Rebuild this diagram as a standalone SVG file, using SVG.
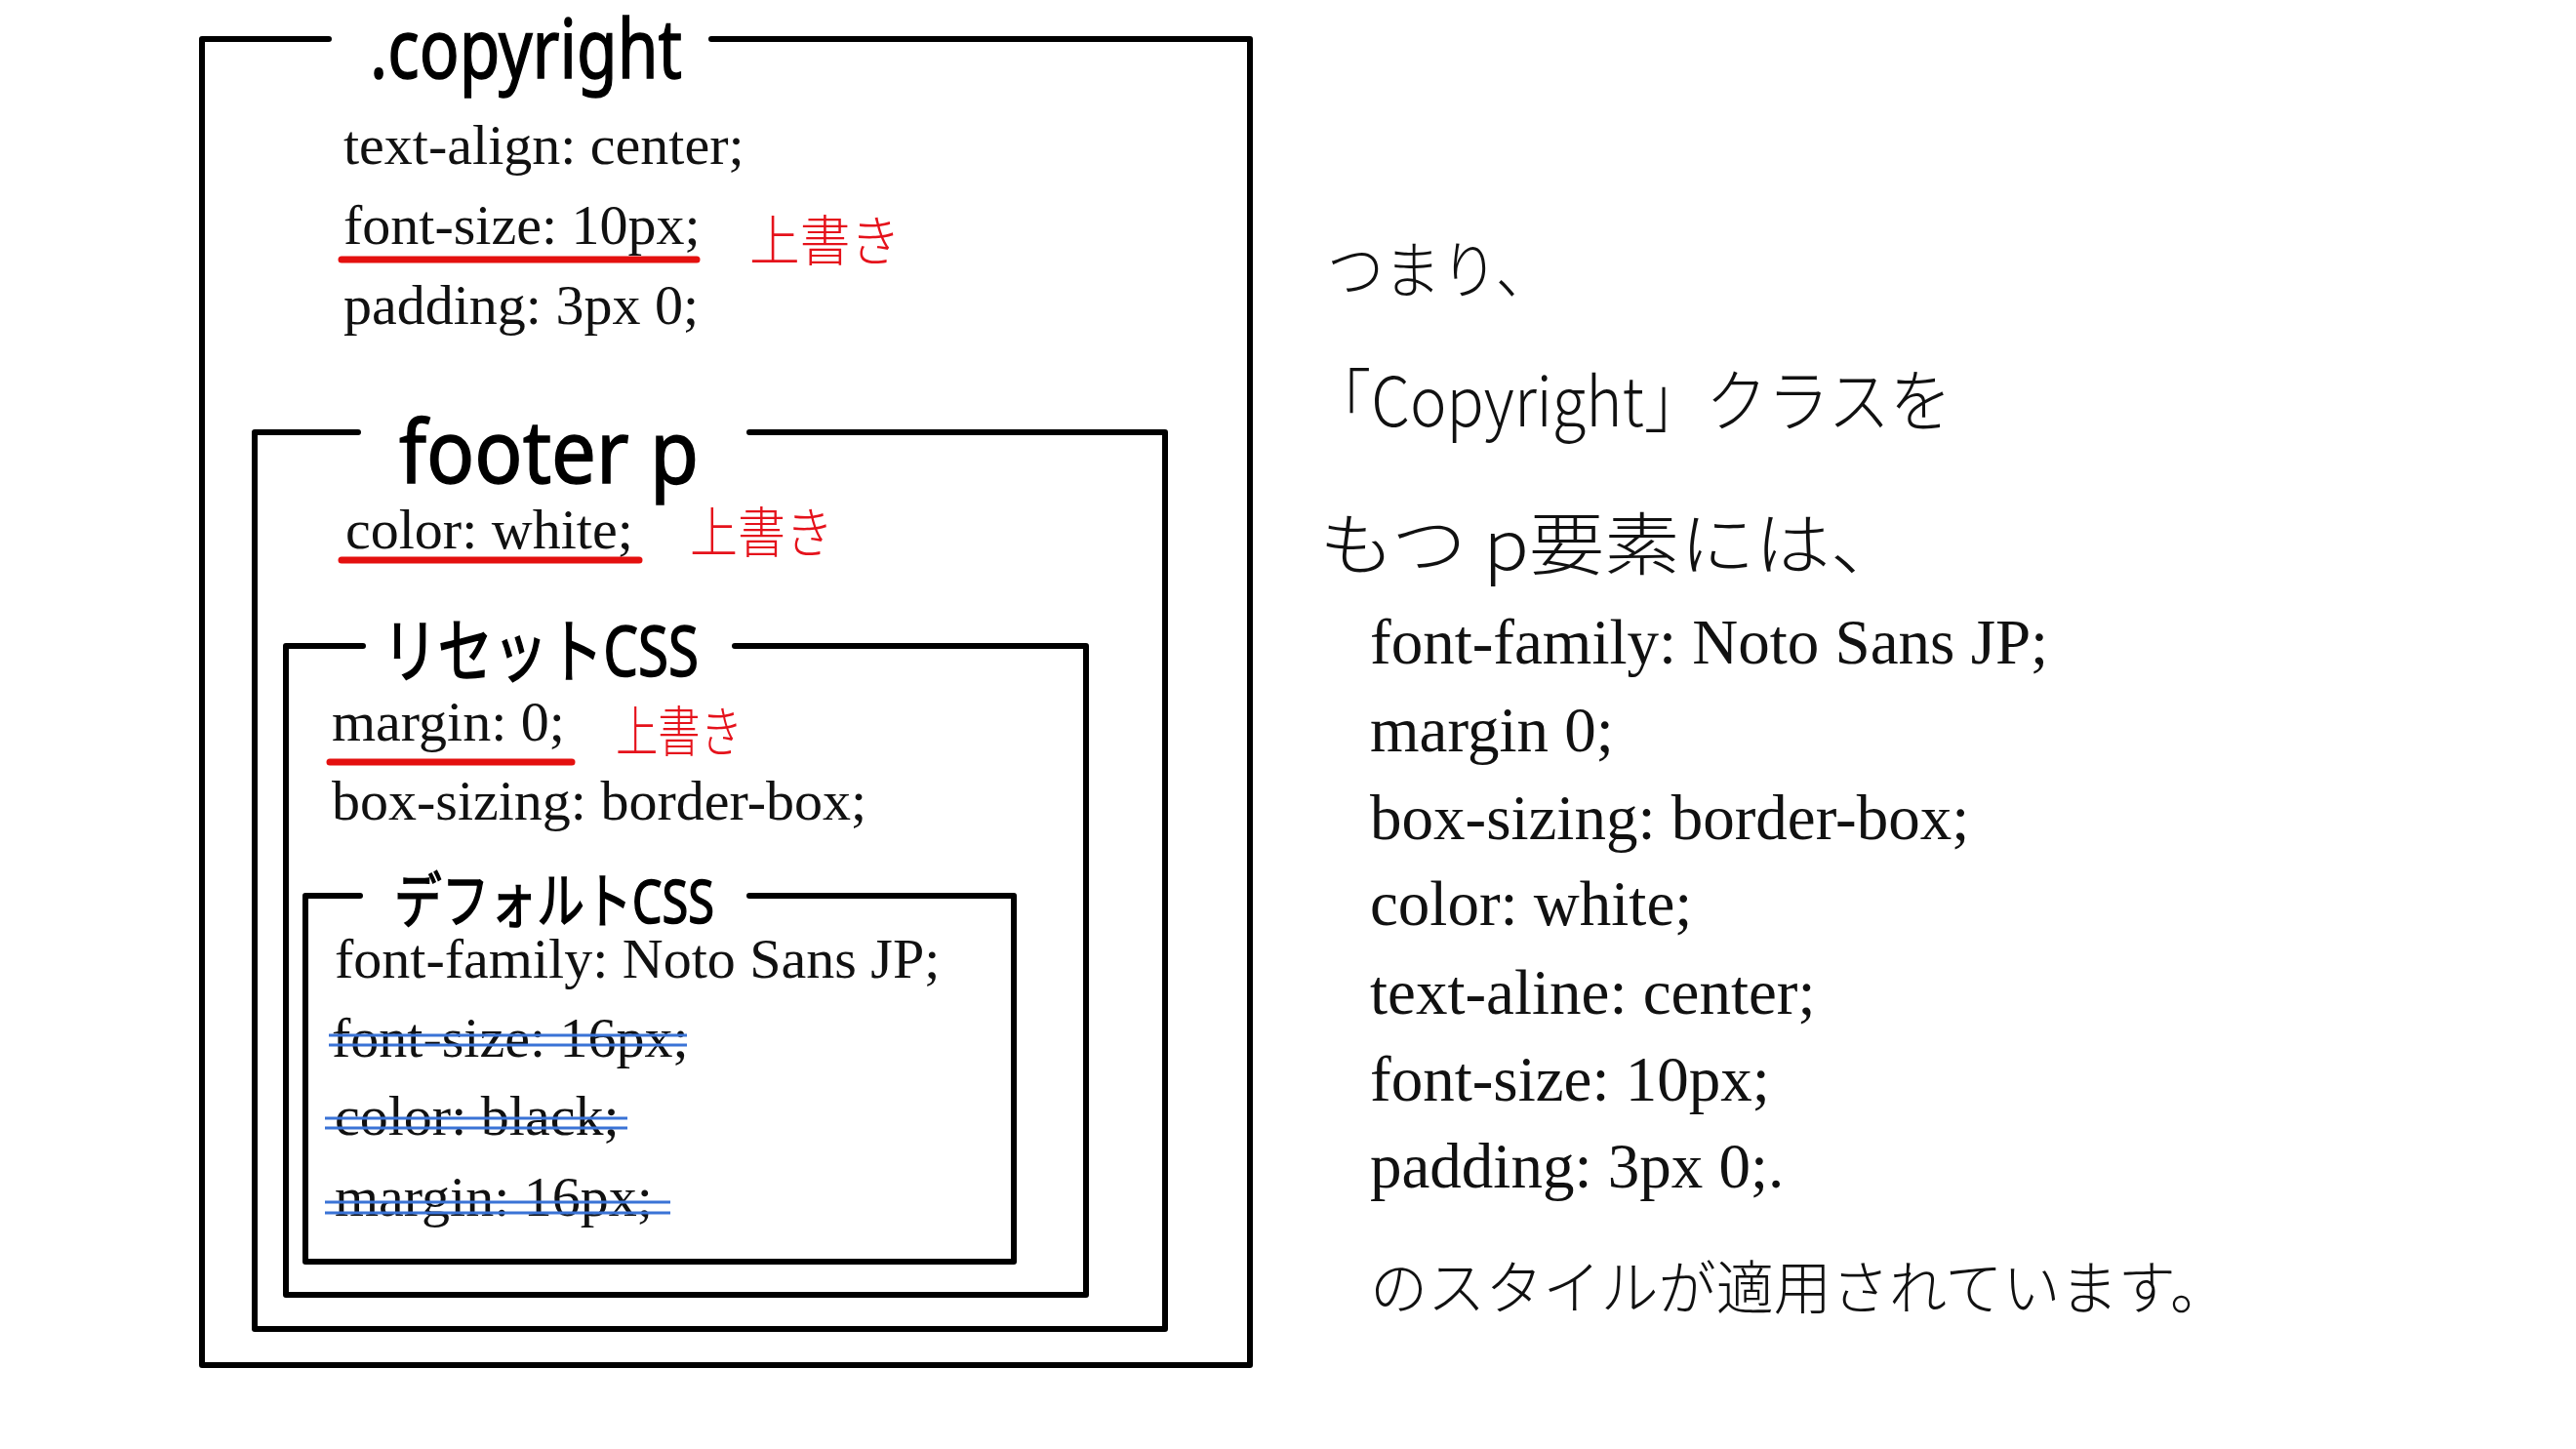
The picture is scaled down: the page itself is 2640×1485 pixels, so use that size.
<svg xmlns="http://www.w3.org/2000/svg" width="2640" height="1485" viewBox="0 0 2640 1485">
<style>
.box{fill:none;stroke:#000;stroke-width:6;stroke-linejoin:round;stroke-linecap:round}
.code{font-family:"Liberation Serif","Times New Roman",serif;font-size:58px;fill:#111}
.rcode{font-family:"Liberation Serif","Times New Roman",serif;font-size:65px;fill:#111}
.title{font-family:"Noto Sans","Noto Sans CJK JP",sans-serif;fill:#000;stroke:#000;stroke-width:1.5}
.hand{font-family:"Noto Sans CJK JP","Noto Sans",sans-serif;fill:#111;font-weight:300}
.red{font-family:"Noto Sans CJK JP",sans-serif;fill:#e5121b;font-size:56px;font-weight:300}
.uline{stroke:#e4100f;stroke-width:7;stroke-linecap:round;fill:none}
.strike{stroke:#3a73d6;stroke-width:3;fill:none}
</style>
<rect width="2640" height="1485" fill="#fff"/>

<g id="copyright">
<path class="box" d="M337,40 H207 V1399 H1281 V40 H729"/>
<text class="title" x="379" y="80" font-size="84" textLength="320" lengthAdjust="spacingAndGlyphs">.copyright</text>
<text class="code" x="352" y="168">text-align: center;</text>
<text class="code" x="352" y="250">font-size: 10px;</text>
<line class="uline" x1="350" y1="266" x2="714" y2="266"/>
<text class="red" x="768" y="267" textLength="155" lengthAdjust="spacingAndGlyphs">上書き</text>
<text class="code" x="352" y="332">padding: 3px 0;</text>
</g>

<g id="footer-p">
<path class="box" d="M367,443 H261 V1362 H1194 V443 H768"/>
<text class="title" x="409" y="495" font-size="90" textLength="307" lengthAdjust="spacingAndGlyphs">footer p</text>
<text class="code" x="354" y="562">color: white;</text>
<line class="uline" x1="350" y1="574" x2="655" y2="574"/>
<text class="red" x="707" y="566" textLength="147" lengthAdjust="spacingAndGlyphs">上書き</text>
</g>

<g id="reset-css">
<path class="box" d="M372,662 H293 V1327 H1113 V662 H753"/>
<text class="title" x="392" y="693" font-size="72" textLength="324" lengthAdjust="spacingAndGlyphs">リセットCSS</text>
<text class="code" x="340" y="759">margin: 0;</text>
<line class="uline" x1="338" y1="781" x2="586" y2="781"/>
<text class="red" x="631" y="770" font-size="52" textLength="130" lengthAdjust="spacingAndGlyphs">上書き</text>
<text class="code" x="340" y="840">box-sizing: border-box;</text>
</g>

<g id="default-css">
<path class="box" d="M369,918 H313 V1293 H1039 V918 H768"/>
<text class="title" x="404" y="946" font-size="62" textLength="328" lengthAdjust="spacingAndGlyphs">デフォルトCSS</text>
<text class="code" x="343" y="1002">font-family: Noto Sans JP;</text>
<text class="code" x="340" y="1083">font-size: 16px;</text>
<path class="strike" d="M337,1061 H704 M337,1071 H704"/>
<text class="code" x="343" y="1163">color: black;</text>
<path class="strike" d="M333,1146 H643 M333,1156 H643"/>
<text class="code" x="343" y="1246">margin: 16px;</text>
<path class="strike" d="M333,1232 H687 M333,1243 H687"/>
</g>

<g id="summary">
<text class="hand" x="1360" y="300" font-size="64" textLength="231" lengthAdjust="spacingAndGlyphs">つまり、</text>
<text class="hand" x="1342" y="437" font-size="70" textLength="658" lengthAdjust="spacingAndGlyphs">「Copyright」クラスを</text>
<text class="hand" x="1352" y="584" font-size="70" textLength="601" lengthAdjust="spacingAndGlyphs">もつ p要素には、</text>
<text class="rcode" x="1404" y="680">font-family: Noto Sans JP;</text>
<text class="rcode" x="1404" y="770">margin 0;</text>
<text class="rcode" x="1404" y="860">box-sizing: border-box;</text>
<text class="rcode" x="1404" y="948">color: white;</text>
<text class="rcode" x="1404" y="1039">text-aline: center;</text>
<text class="rcode" x="1404" y="1128">font-size: 10px;</text>
<text class="rcode" x="1404" y="1217">padding: 3px 0;.</text>
<text class="hand" x="1404" y="1342" font-size="60" textLength="879" lengthAdjust="spacingAndGlyphs">のスタイルが適用されています。</text>
</g>
</svg>
